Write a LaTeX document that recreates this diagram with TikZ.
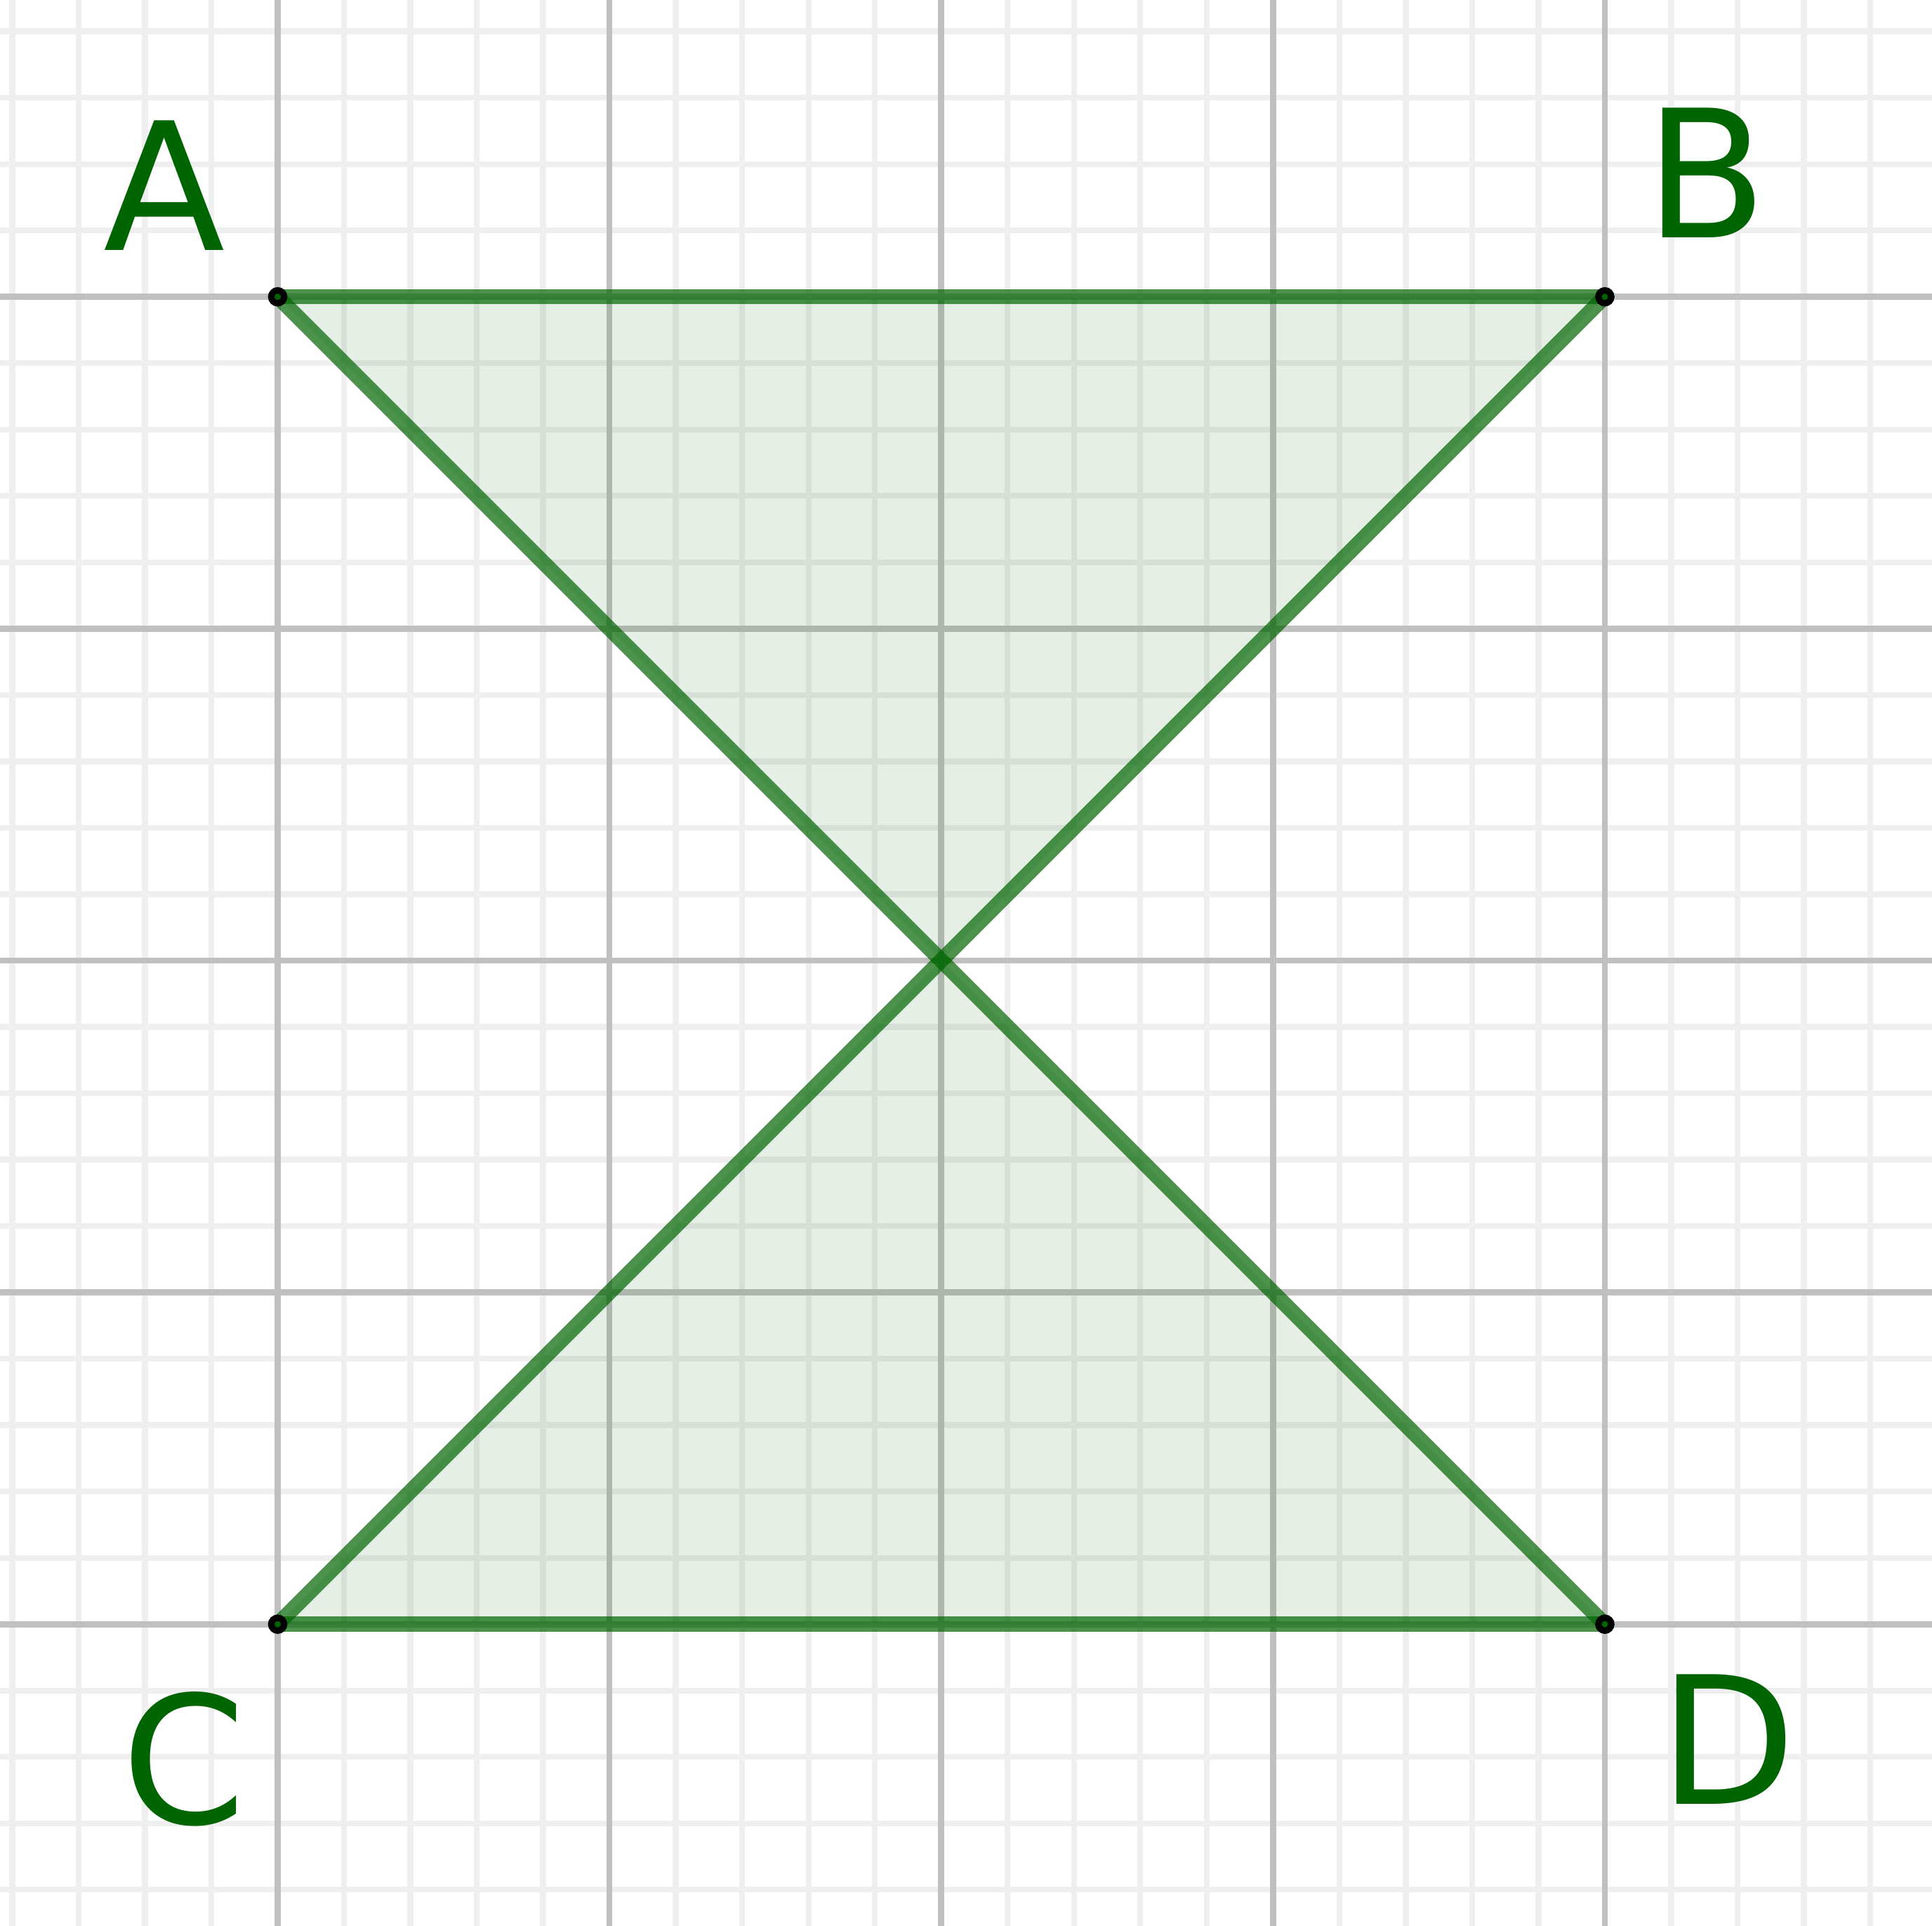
\documentclass[tikz,border=0pt]{standalone}
\usepackage{fontspec}
\setmainfont{DejaVu Sans}
\definecolor{ggbgreen}{RGB}{0,100,0}
\definecolor{majorgray}{RGB}{192,192,192}
\definecolor{minorgray}{RGB}{239,239,239}
\begin{document}
\begin{tikzpicture}[x=2cm,y=2cm,line width=2.6pt,
  seg/.style={draw=ggbgreen,draw opacity=0.7,line width=2.6pt},
  pt/.style={circle,fill=ggbgreen,draw=black,line width=1.1pt,inner sep=0pt,minimum size=2.2pt},
  lbl/.style={text=ggbgreen,inner sep=0pt,anchor=base,font=\fontsize{30.5}{36}\selectfont}]
  \useasboundingbox (-0.8368,-0.909) rectangle (4.986,4.8943);
  \clip (-0.8368,-0.909) rectangle (4.986,4.8943);

  \coordinate (A) at (0,4);
  \coordinate (B) at (4,4);
  \coordinate (C) at (0,0);
  \coordinate (D) at (4,0);

  % 网格
  \draw[minorgray,line width=1pt,step=0.2] (-1,-1) grid (5.2,5);
  \draw[majorgray,line width=1.05pt,step=1] (-1,-1) grid (5.2,5);

  % 填充区域
  \fill[ggbgreen,fill opacity=0.1] (A) -- (B) -- (C) -- (D) -- cycle;

  % 线段
  \draw[seg] (A) -- (B);
  \draw[seg] (B) -- (C);
  \draw[seg] (C) -- (D);
  \draw[seg] (D) -- (A);

  % 顶点
  \node[pt] (pA) at (A) {};
  \node[pt] (pB) at (B) {};
  \node[pt] (pC) at (C) {};
  \node[pt] (pD) at (D) {};

  % 顶点标注
  \node[lbl] (lA) at (-0.3406,4.1396) {A};
  \node[lbl] (lB) at (4.305,4.1786) {B};
  \node[lbl] (lC) at (-0.2825,-0.602) {C};
  \node[lbl] (lD) at (4.3696,-0.5417) {D};
\end{tikzpicture}
\end{document}
